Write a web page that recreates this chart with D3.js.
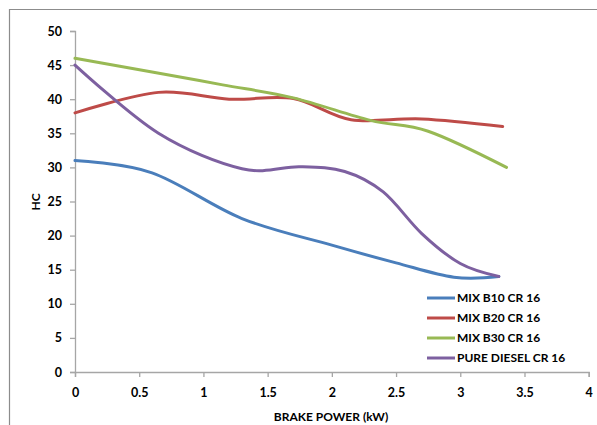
<!DOCTYPE html>
<html><head><meta charset="utf-8">
<script src="https://cdn.jsdelivr.net/npm/d3@7"></script>
<style>body{margin:0;background:#fff}svg{display:block}</style>
</head><body>
<svg id="c" width="597" height="425"></svg>
<script>
const seriesNames = ["MIX B10 CR 16","MIX B20 CR 16","MIX B30 CR 16","PURE DIESEL CR 16"];
const colors = ["#4a7ebb","#be4b48","#98b954","#7d60a0"];
const b10X = [0, 0.6, 1.3, 2.0, 2.5, 2.95, 3.3];
const b10Y = [31, 29.2, 22.5, 18.6, 16.0, 13.9, 14];
const b20X = [0, 0.65, 1.2, 1.7, 2.15, 2.7, 3.33];
const b20Y = [38, 41, 40, 40.1, 37, 37.1, 36];
const b30X = [0, 0.6, 1.15, 1.7, 2.3, 2.75, 3.36];
const b30Y = [46, 44.0, 42.1, 40.2, 36.9, 35.3, 30];
const dieselX = [0, 0.65, 1.3, 1.75, 2.1, 2.4, 2.7, 3.0, 3.3];
const dieselY = [45, 35, 29.8, 30.1, 29.4, 26.4, 20.3, 15.9, 14];
const xTicks = [0, 0.5, 1, 1.5, 2, 2.5, 3, 3.5, 4];
const yTicks = [0, 5, 10, 15, 20, 25, 30, 35, 40, 45, 50];

const series = [[b10X,b10Y],[b20X,b20Y],[b30X,b30Y],[dieselX,dieselY]];
const svg = d3.select("#c");
const font = "Lato, 'Liberation Sans', sans-serif";
const x = d3.scaleLinear().domain([0,4]).range([75,588.7]);
const y = d3.scaleLinear().domain([0,50]).range([372,31]);

// outer chart border
svg.append("path").attr("d","M9.5,425 V9.5 H597").attr("fill","none").attr("stroke","#8c8c8c").attr("stroke-width",1.2);

const axisColor = "#a6a6a6";
const gy = svg.append("g").attr("transform","translate(75,0)").call(d3.axisLeft(y).tickValues(yTicks).tickSize(5).tickPadding(8).tickFormat(d3.format("")));
const gx = svg.append("g").attr("transform","translate(0,372)").call(d3.axisBottom(x).tickValues(xTicks).tickSize(5).tickPadding(11).tickFormat(d=>String(d)));
[gx,gy].forEach(g=>{
  g.selectAll("path,line").attr("stroke",axisColor).attr("stroke-width",1.3);
  g.selectAll("text").attr("fill","#000").attr("font-family",font).attr("font-weight","bold").attr("font-size",12.5);
});

const line = d3.line().x(d=>x(d[0])).y(d=>y(d[1])).curve(d3.curveCatmullRom.alpha(0));
series.forEach((s,i)=>{
  const pts = s[0].map((v,j)=>[v,s[1][j]]);
  svg.append("path").datum(pts).attr("d",line).attr("fill","none").attr("stroke",colors[i]).attr("stroke-width",3).attr("stroke-linecap","round");
});

svg.append("text").attr("transform","translate(40,202) rotate(-90)").attr("text-anchor","middle")
  .attr("font-family",font).attr("font-weight","bold").attr("font-size",12).text("HC");
svg.append("text").attr("x",331).attr("y",421).attr("text-anchor","middle")
  .attr("font-family",font).attr("font-weight","bold").attr("font-size",12).text("BRAKE POWER (kW)");

const lg = svg.append("g");
seriesNames.forEach((n,i)=>{
  const yy = 298 + i*20;
  lg.append("line").attr("x1",427).attr("x2",455).attr("y1",yy).attr("y2",yy).attr("stroke",colors[i]).attr("stroke-width",3);
  lg.append("text").attr("x",457).attr("y",yy+4).attr("font-family",font).attr("font-weight","bold").attr("font-size",12).text(n);
});
</script>
</body></html>
